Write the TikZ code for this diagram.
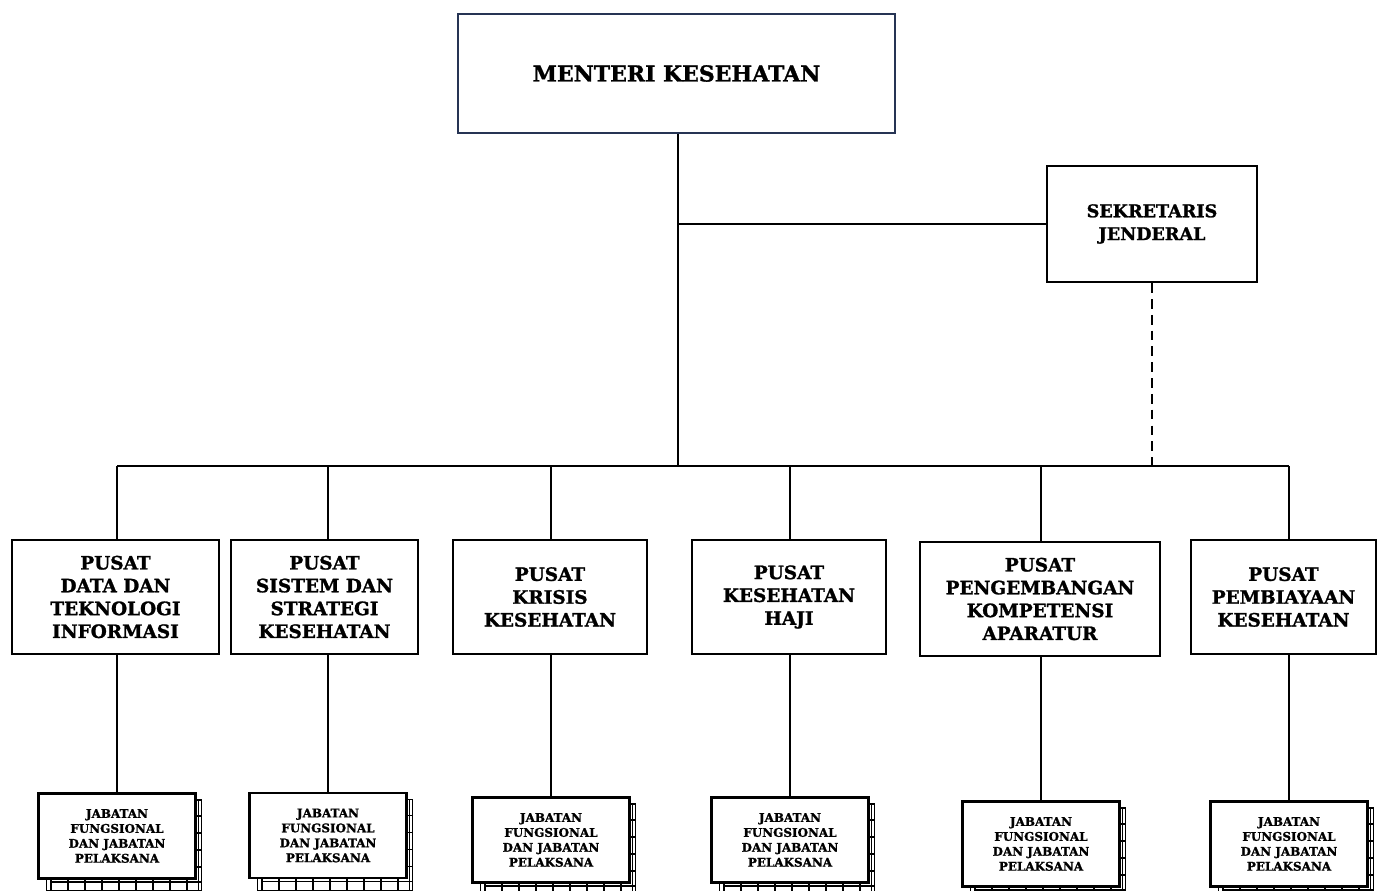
\documentclass[tikz,border=0pt]{standalone}
\usepackage{fontspec}
\setmainfont{DejaVu Serif}[BoldFeatures={FakeBold=1.3}]
\usetikzlibrary{calc}
\definecolor{menterinavy}{RGB}{38,52,84}
% stack of sheets behind a jabatan box, centre (#1,#2)
\def\sheets(#1,#2){
	\draw[sheet] (#1-70.5, #2-36) rectangle (#1+84.5, #2+55);
	\draw[sheet] (#1+81.5, #2-36) -- (#1+81.5, #2+55);
	\draw[sheet] (#1-66.5, #2+46) -- (#1+84.5, #2+46);
	\foreach \t in {-20,-3,14,31} \draw[sheet] (#1+78.5, #2+\t) -- (#1+84.5, #2+\t);
	\foreach \t in {-66,-49,...,70} \draw[sheet] (#1+\t, #2+41) -- (#1+\t, #2+55);
}

\begin{document}
\begin{tikzpicture}[x=0.02cm, y=-0.02cm, line width=1.1pt,
	unitbox/.style={draw, line width=1.4pt, fill=white, align=center, inner sep=0pt,
		font=\bfseries\fontsize{10.5}{13}\selectfont, minimum height=2.28cm},
	jfbox/.style={draw, line width=1.2pt, fill=white, align=center, inner sep=0pt,
		font=\bfseries\fontsize{6.8}{8.5}\selectfont, minimum width=3.14cm, minimum height=1.7cm},
	sheet/.style={line width=0.8pt}]
		%%%%% START %%%%%
		\useasboundingbox (0,0) rectangle (1377,891);
		\clip (0,0) rectangle (1377,891);
		
		\node[unitbox, draw=menterinavy, minimum width=8.74cm, minimum height=2.38cm,
			font=\bfseries\fontsize{12.5}{15}\selectfont] (menteri) at (676.5,73.5) {MENTERI KESEHATAN};
		\node[unitbox, minimum width=4.2cm, minimum height=2.32cm,
			font=\bfseries\fontsize{10}{13}\selectfont] (sekjen) at (1152,224) {SEKRETARIS\\JENDERAL};
		
		\node[unitbox, minimum width=4.14cm] (pusdatin) at (115.5,597) {PUSAT\\DATA DAN\\TEKNOLOGI\\INFORMASI};
		\node[unitbox, minimum width=3.74cm] (strategi) at (324.5,597) {PUSAT\\SISTEM DAN\\STRATEGI\\KESEHATAN};
		\node[unitbox, minimum width=3.88cm] (krisis) at (550,597) {PUSAT\\KRISIS\\KESEHATAN};
		\node[unitbox, minimum width=3.88cm] (haji) at (789,597) {PUSAT\\KESEHATAN\\HAJI};
		\node[unitbox, minimum width=4.8cm] (kompetensi) at (1040,599) {PUSAT\\PENGEMBANGAN\\KOMPETENSI\\APARATUR};
		\node[unitbox, minimum width=3.7cm] (pembiayaan) at (1283.5,597) {PUSAT\\PEMBIAYAAN\\KESEHATAN};
		
		\sheets(117,836);
		\sheets(328,835.5);
		\sheets(551,840);
		\sheets(790,840);
		\sheets(1041,844);
		\sheets(1289,844);
		\node[jfbox] (jf1) at (117,836) {JABATAN\\FUNGSIONAL\\DAN JABATAN\\PELAKSANA};
		\node[jfbox] (jf2) at (328,835.5) {JABATAN\\FUNGSIONAL\\DAN JABATAN\\PELAKSANA};
		\node[jfbox] (jf3) at (551,840) {JABATAN\\FUNGSIONAL\\DAN JABATAN\\PELAKSANA};
		\node[jfbox] (jf4) at (790,840) {JABATAN\\FUNGSIONAL\\DAN JABATAN\\PELAKSANA};
		\node[jfbox] (jf5) at (1041,844) {JABATAN\\FUNGSIONAL\\DAN JABATAN\\PELAKSANA};
		\node[jfbox] (jf6) at (1289,844) {JABATAN\\FUNGSIONAL\\DAN JABATAN\\PELAKSANA};
		
		\coordinate (hub) at ($(menteri.south |- 0,466)+(1.5,0)$);
		\coordinate (sekline) at (hub |- 0,224);
		\draw ($(menteri.south)+(1.5,0)$) -- (hub);
		\draw (sekline) -- (sekline -| sekjen.west);
		\draw[line width=1pt, dash pattern=on 5.5pt off 3.5pt] (sekjen.south) -- (sekjen.south |- hub);
		\draw (jf1.north |- hub) -- (jf6.north |- hub);
		
		\foreach \u/\j in {pusdatin/jf1, strategi/jf2, krisis/jf3, haji/jf4, kompetensi/jf5, pembiayaan/jf6}{
			\draw (\j.north |- hub) -- (\j.north |- \u.north);
			\draw (\j.north |- \u.south) -- (\j.north);
		}
		%%%%% END %%%%%
	\end{tikzpicture}
\end{document}
